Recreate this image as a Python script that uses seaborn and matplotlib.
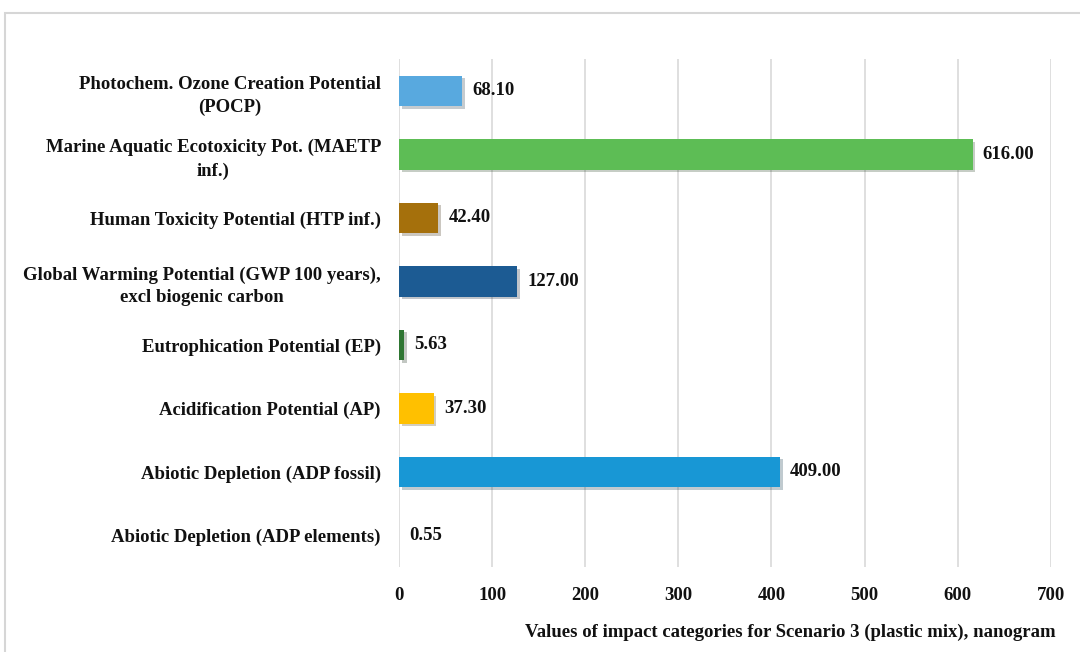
import pandas as pd
import matplotlib.pyplot as plt
import seaborn as sns
import matplotlib.patheffects as pe
from matplotlib.patches import Rectangle

# Data (top to bottom as in the figure)
categories = [
    "Photochem. Ozone Creation Potential\n(POCP)",
    "Marine Aquatic Ecotoxicity Pot. (MAETP\ninf.)",
    "Human Toxicity Potential (HTP inf.)",
    "Global Warming Potential (GWP 100 years),\nexcl biogenic carbon",
    "Eutrophication Potential (EP)",
    "Acidification Potential (AP)",
    "Abiotic Depletion (ADP fossil)",
    "Abiotic Depletion (ADP elements)",
]
values = [68.10, 616.00, 42.40, 127.00, 5.63, 37.30, 409.00, 0.55]
colors = ["#58A9DF", "#5DBD55", "#A5700C", "#1C5B93", "#2E7632",
          "#FFC000", "#1897D5", "#EDEDED"]
x_ticks = [0, 100, 200, 300, 400, 500, 600, 700]

df = pd.DataFrame({"category": categories, "value": values})

sns.set_style("white")
plt.rcParams['font.family'] = ['Liberation Serif', 'DejaVu Serif']
plt.rcParams['text.color'] = '#111111'
plt.rcParams['xtick.color'] = '#111111'
plt.rcParams['ytick.color'] = '#111111'

fs = 13.5

fig = plt.figure(figsize=(10.8, 6.52), dpi=100)
ax = fig.add_axes([0.3694, 0.130, 0.6035, 0.7795])

sns.barplot(data=df, y="category", x="value", hue="category", palette=colors,
            orient="h", width=0.48, saturation=1, legend=False, ax=ax, zorder=3,
            edgecolor="none")

# subtle drop shadow as in the original
for p in ax.patches:
    p.set_path_effects([pe.SimplePatchShadow(offset=(2, -2), alpha=0.25), pe.Normal()])

# value labels
for i, v in enumerate(values):
    ax.text(v + 11, i, f"{v:.2f}", va="center", ha="left",
            fontsize=fs, fontweight="bold")

# Formatting
ax.set_xlim(0, 700)
ax.set_xticks(x_ticks)
ax.set_xticklabels([str(t) for t in x_ticks], fontsize=fs, fontweight="bold")
ax.tick_params(axis="x", length=0, pad=14)
ax.tick_params(axis="y", length=0, pad=13)
for lbl in ax.get_yticklabels():
    lbl.set_fontsize(fs)
    lbl.set_fontweight("bold")
    lbl.set_multialignment("center")
    lbl.set_linespacing(1.45)
ax.set_ylabel("")
ax.set_xlabel("")
ax.grid(axis="x", color="#D9D9D9", linewidth=1.2, zorder=0)
for s in ax.spines.values():
    s.set_visible(False)

fig.text(0.977, 0.03, "Values of impact categories for Scenario 3 (plastic mix), nanogram",
         ha="right", va="center", fontsize=fs, fontweight="bold")

# outer frame
fig.patches.append(Rectangle((0.005, -0.05), 1.1, 1.03, transform=fig.transFigure,
                             fill=False, edgecolor="#D6D6D6", linewidth=1.5))

plt.savefig("out.png", dpi=100)
